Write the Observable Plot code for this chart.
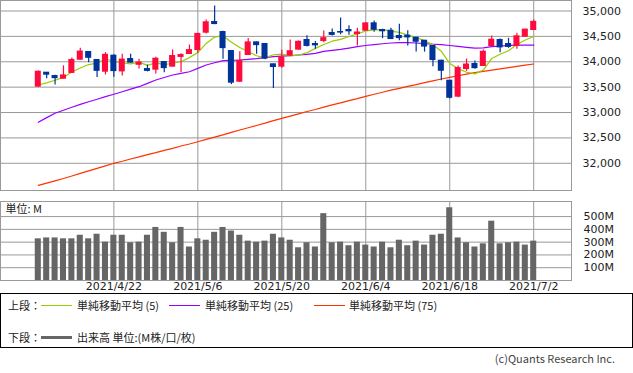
<!DOCTYPE html>
<html><head><meta charset="utf-8">
<script src="https://cdn.jsdelivr.net/npm/d3@7"></script>
<script src="https://cdn.jsdelivr.net/npm/@observablehq/plot@0.6"></script>
<style>
body{margin:0;background:#fff;}
#wrap{position:relative;width:633px;height:373px;overflow:hidden;background:#fff;font-family:"Noto Sans CJK JP","DejaVu Sans",sans-serif;color:#222;}
#top{position:absolute;left:0;top:0;}
#vol{position:absolute;left:0;top:191px;}
svg{overflow:visible;}
#legend{position:absolute;left:0;top:293px;width:631px;height:53px;border:1px solid #000;font-size:11px;}
.row{position:absolute;left:0;height:14px;line-height:14px;white-space:nowrap;}
.lab{position:absolute;top:0;}
.sw{position:absolute;top:7px;height:1px;}
#copy{position:absolute;right:18px;top:350px;font-size:11px;color:#444;font-family:"Noto Sans CJK JP",sans-serif;}
</style></head>
<body><div id="wrap">
<div id="top"></div><div id="vol"></div>
<div id="legend">
 <div class="row" style="top:4px;width:630px">
  <span class="lab" style="left:7px">上段：</span>
  <span class="sw" style="left:40px;width:31px;background:#99cc00"></span>
  <span class="lab" style="left:76px">単純移動平均 (5)</span>
  <span class="sw" style="left:168px;width:31px;background:#9900ff"></span>
  <span class="lab" style="left:204px">単純移動平均 (25)</span>
  <span class="sw" style="left:313px;width:31px;background:#ff3300"></span>
  <span class="lab" style="left:348px">単純移動平均 (75)</span>
 </div>
 <div class="row" style="top:36px;width:630px">
  <span class="lab" style="left:7px">下段：</span>
  <span class="sw" style="left:40px;width:31px;top:6px;height:3px;background:#666"></span>
  <span class="lab" style="left:76px">出来高 単位:(M株/口/枚)</span>
 </div>
</div>
<div id="copy">(c)Quants Research Inc.</div>
</div>
<script>
const dates = ["2021/4/9","2021/4/12","2021/4/13","2021/4/14","2021/4/15","2021/4/16","2021/4/19","2021/4/20","2021/4/21","2021/4/22","2021/4/23","2021/4/26","2021/4/27","2021/4/28","2021/4/29","2021/4/30","2021/5/3","2021/5/4","2021/5/5","2021/5/6","2021/5/7","2021/5/10","2021/5/11","2021/5/12","2021/5/13","2021/5/14","2021/5/17","2021/5/18","2021/5/19","2021/5/20","2021/5/21","2021/5/24","2021/5/25","2021/5/26","2021/5/27","2021/5/28","2021/6/1","2021/6/2","2021/6/3","2021/6/4","2021/6/7","2021/6/8","2021/6/9","2021/6/10","2021/6/11","2021/6/14","2021/6/15","2021/6/16","2021/6/17","2021/6/18","2021/6/21","2021/6/22","2021/6/23","2021/6/24","2021/6/25","2021/6/28","2021/6/29","2021/6/30","2021/7/1","2021/7/2"];
const open = [33509,33785,33719,33666,33780,34040,34192,34035,33804,34120,33810,34054,33940,33857,33844,33995,33903,34095,34153,34232,34573,34783,34586,34212,33607,34133,34383,34350,33950,33903,34120,34238,34429,34350,34409,34567,34586,34626,34547,34612,34758,34626,34612,34508,34514,34474,34415,34310,34021,33627,33312,33857,33956,33917,34310,34429,34350,34310,34494,34626];
const high = [33818,33790,33735,33920,34075,34265,34195,34040,34180,34140,34150,34150,34050,33935,34090,34000,34230,34160,34330,34560,34823,35098,34600,34215,34198,34460,34390,34360,33955,34226,34430,34410,34513,34400,34606,34645,34862,34710,34660,34770,34803,34640,34660,34740,34612,34480,34420,34320,34030,33630,33917,34054,34015,34232,34508,34450,34462,34560,34640,34823];
const low = [33500,33666,33540,33660,33770,34035,33982,33690,33740,33693,33720,33975,33860,33800,33760,33785,33900,33790,34150,34170,34547,34730,34050,33550,33590,34130,34150,34040,33473,33870,34110,34230,34290,34245,34376,34510,34533,34521,34310,34605,34580,34455,34440,34415,34310,34192,34190,33903,33627,33266,33290,33812,33855,33910,34305,34180,34265,34245,34490,34620];
const close = [33804,33745,33677,33731,34036,34201,34078,33821,34137,33816,34043,33982,33985,33820,34060,33875,34113,34133,34230,34549,34778,34743,34269,33588,34021,34382,34328,34061,33896,34084,34208,34394,34312,34323,34465,34529,34575,34600,34577,34756,34630,34600,34447,34466,34480,34394,34299,34034,33823,33290,33877,33946,33874,34197,34434,34283,34292,34502,34633,34786];
const volumeM = [326,333,333,326,326,354,326,362,300,354,354,295,300,354,415,377,295,415,262,326,315,377,415,387,354,308,300,308,362,333,315,256,295,262,523,295,300,272,300,277,262,300,256,315,272,308,277,354,362,569,333,295,262,287,464,287,295,300,277,308];
const ma5 = [33542,33585,33635,33692,33798,33878,33945,33973,34055,34011,33979,33960,33993,33929,33978,33944,33971,34000,34082,34180,34361,34487,34514,34385,34280,34201,34118,34076,34138,34150,34115,34129,34179,34264,34340,34405,34441,34498,34549,34607,34628,34633,34602,34580,34525,34477,34417,34335,34206,33968,33865,33794,33762,33837,34066,34147,34216,34342,34429,34499];
const ma25 = [32807,32900,32985,33045,33103,33160,33213,33262,33312,33360,33410,33460,33509,33575,33641,33690,33739,33772,33804,33870,33936,33980,34021,34028,34035,34048,34061,34080,34100,34110,34120,34133,34147,34165,34206,34225,34245,34270,34297,34320,34336,34355,34370,34376,34378,34370,34356,34345,34336,34320,34304,34285,34268,34275,34297,34310,34324,34326,34326,34326];
const ma75 = [31566,31610,31655,31700,31750,31800,31850,31900,31950,32000,32040,32085,32125,32170,32210,32255,32295,32340,32380,32425,32470,32515,32560,32610,32655,32700,32745,32790,32840,32886,32930,32975,33020,33060,33105,33150,33190,33235,33275,33319,33360,33400,33440,33475,33515,33550,33590,33625,33660,33694,33725,33755,33785,33810,33835,33860,33885,33910,33935,33956];
const priceTicks = [32000,32500,33000,33500,34000,34500,35000];
const volTicks = [100,200,300,400,500];
const dateTickIdx = [9,19,29,39,49,59];

const UP = "#ff0a3c", DOWN = "#003399", GRID = "#999";
const rows = dates.map((d,i)=>({i, d, o:open[i], h:high[i], l:low[i], c:close[i], v:volumeM[i],
  m5:ma5[i], m25:ma25[i], m75:ma75[i], col: close[i] >= open[i] ? UP : DOWN}));
const half = 0.36;
const xDom = [-4.5, 63.5];
const font = {fontFamily:"'DejaVu Sans',sans-serif", fontSize:"11px", color:"#222", background:"transparent"};

const priceChart = Plot.plot({
  width:633, height:191, marginLeft:0, marginRight:62, marginTop:0, marginBottom:1,
  style:font,
  x:{type:"linear", domain:xDom, axis:null},
  y:{domain:[31464,35207], axis:null},
  marks:[
    Plot.gridX(dateTickIdx, {stroke:GRID, strokeOpacity:1}),
    Plot.gridY(priceTicks, {stroke:GRID, strokeOpacity:1}),
    Plot.frame({stroke:GRID}),
    Plot.axisY(priceTicks, {anchor:"right", label:null, tickSize:0, tickPadding:11, tickFormat:d3.format(","), fill:"#222"}),
    Plot.line(rows, {x:"i", y:"m75", stroke:"#ff3300", strokeWidth:1.2}),
    Plot.line(rows, {x:"i", y:"m25", stroke:"#9900ff", strokeWidth:1.2}),
    Plot.line(rows, {x:"i", y:"m5", stroke:"#99cc00", strokeWidth:1.2}),
    Plot.ruleX(rows, {x:"i", y1:"l", y2:"h", stroke:"col", strokeWidth:1.2}),
    Plot.rect(rows, {x1:d=>d.i-half, x2:d=>d.i+half, y1:"o", y2:"c", fill:"col", insetTop:-0.5, insetBottom:-0.5})
  ]
});
document.getElementById("top").appendChild(priceChart);

const volChart = Plot.plot({
  width:633, height:104, marginLeft:0, marginRight:62, marginTop:10, marginBottom:15,
  style:font,
  x:{type:"linear", domain:xDom, axis:null},
  y:{domain:[0,618], axis:null},
  marks:[
    Plot.gridX(dateTickIdx, {stroke:GRID, strokeOpacity:1}),
    Plot.gridY(volTicks, {stroke:GRID, strokeOpacity:1}),
    Plot.frame({stroke:GRID}),
    Plot.rect(rows, {x1:d=>d.i-half, x2:d=>d.i+half, y1:0, y2:"v", fill:"#666"}),
    Plot.axisY(volTicks, {anchor:"right", label:null, tickSize:0, tickPadding:12, tickFormat:d=>d+"M", fill:"#222"}),
    Plot.axisX(dateTickIdx, {anchor:"bottom", label:null, tickSize:0, tickPadding:2, tickFormat:i=>dates[i], fill:"#222"}),
    Plot.text(["単位: M"], {frameAnchor:"top-left", dx:5, dy:8, fontFamily:"'Noto Sans CJK JP',sans-serif", fontSize:11, fill:"#222", lineAnchor:"middle"})
  ]
});
document.getElementById("vol").appendChild(volChart);
</script>
</body></html>
